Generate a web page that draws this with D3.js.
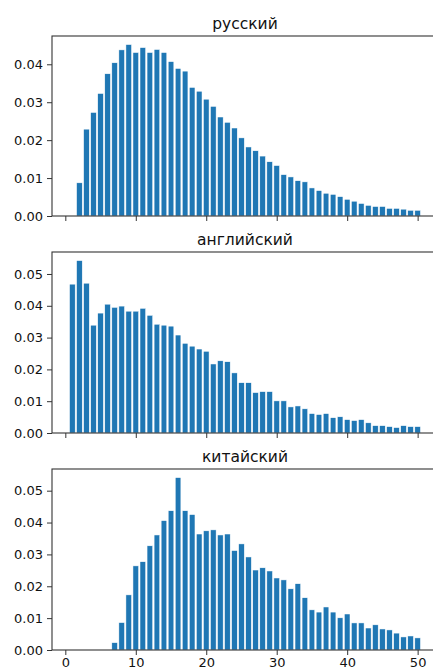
<!DOCTYPE html>
<html><head><meta charset="utf-8">
<script src="https://cdn.jsdelivr.net/npm/d3@7"></script>
<style>body{margin:0;background:#fff;}svg{display:block;}text{font-family:"DejaVu Sans",sans-serif;fill:#111;}</style>
</head><body>
<svg id="c" width="433" height="670"></svg>
<script>
const titles = ["русский", "английский", "китайский"];
const ruX = d3.range(2, 51);
const ruY = [0.00875,0.0229,0.0273,0.0323,0.0375,0.0404,0.0438,0.0452,0.0431,0.0444,0.0431,0.0439,0.0431,0.0407,0.0389,0.0382,0.0339,0.0329,0.0308,0.0289,0.0261,0.0247,0.0232,0.0206,0.0182,0.0172,0.0158,0.0143,0.0133,0.0109,0.0103,0.0093,0.0090,0.0074,0.0067,0.0060,0.0057,0.0051,0.0044,0.0039,0.0033,0.0028,0.0025,0.0025,0.0020,0.0020,0.0018,0.0015,0.0015];
const enX = d3.range(1, 51);
const enY = [0.0468,0.0542,0.0471,0.0339,0.0377,0.0405,0.0395,0.0399,0.0383,0.0383,0.0392,0.0370,0.0342,0.0339,0.0336,0.0308,0.0282,0.0273,0.0264,0.0257,0.0217,0.0227,0.0224,0.0189,0.0158,0.0158,0.0127,0.0130,0.0130,0.0101,0.0101,0.0082,0.0085,0.0076,0.0061,0.0058,0.0061,0.0048,0.0051,0.0042,0.0039,0.0042,0.0032,0.0023,0.0023,0.0020,0.0017,0.0023,0.0020,0.0020];
const zhX = d3.range(7, 51);
const zhY = [0.0023,0.0086,0.0173,0.0264,0.0277,0.0327,0.0361,0.0406,0.0437,0.0541,0.0437,0.0425,0.0364,0.0374,0.0377,0.0361,0.0364,0.0312,0.0333,0.0292,0.0251,0.0258,0.0248,0.0226,0.0220,0.0192,0.0208,0.0164,0.0126,0.0119,0.0135,0.0119,0.0101,0.0113,0.0085,0.0085,0.0069,0.0079,0.0066,0.0063,0.0053,0.0041,0.0044,0.0038];
const xTicks = [0, 10, 20, 30, 40, 50];
const yTicks1 = [0, 0.01, 0.02, 0.03, 0.04];
const yTicks2 = [0, 0.01, 0.02, 0.03, 0.04, 0.05];

const series = [[ruX, ruY, yTicks1], [enX, enY, yTicks2], [zhX, zhY, yTicks2]];
const svg = d3.select("#c");
const left = 52, right = 438;
const panels = [[36, 216], [252, 433], [469, 650]];
const bw = 0.8;
const x = d3.scaleLinear().domain([0.6 - 2.49, 50.4 + 2.49]).range([left, right]);

series.forEach(([xs, ys, yt], i) => {
  const [top, bot] = panels[i];
  const ymax = d3.max(ys) * 1.05;
  const y = d3.scaleLinear().domain([0, ymax]).range([bot, top]);
  const g = svg.append("g");
  g.selectAll("rect").data(xs.map((v, k) => [v, ys[k]])).enter().append("rect")
    .attr("x", d => x(d[0] - bw / 2))
    .attr("width", d => x(d[0] + bw / 2) - x(d[0] - bw / 2))
    .attr("y", d => y(d[1]))
    .attr("height", d => y(0) - y(d[1]))
    .attr("fill", "#1f77b4")
    .attr("stroke", "#ffffff").attr("stroke-width", 0.5);
  g.append("rect").attr("x", left).attr("y", top).attr("width", right - left).attr("height", bot - top)
    .attr("fill", "none").attr("stroke", "#333").attr("stroke-width", 1.1);
  const ya = d3.axisLeft(y).tickValues(yt).tickFormat(d3.format(".2f")).tickSize(5).tickPadding(4);
  const ga = g.append("g").attr("transform", `translate(${left},0)`).call(ya);
  ga.select(".domain").remove();
  ga.selectAll("text").style("font-size", "13px");
  ga.selectAll("line").attr("stroke", "#333");
  const xa = d3.axisBottom(x).tickValues(xTicks).tickSize(5).tickPadding(3);
  if (i < 2) xa.tickFormat("");
  const gx = g.append("g").attr("transform", `translate(0,${bot})`).call(xa);
  gx.select(".domain").remove();
  gx.selectAll("text").style("font-size", "13px");
  gx.selectAll("line").attr("stroke", "#333");
  g.append("text").attr("x", (left + right) / 2).attr("y", top - 7).attr("text-anchor", "middle")
    .style("font-size", "15.5px").text(titles[i]);
});
</script>
</body></html>
